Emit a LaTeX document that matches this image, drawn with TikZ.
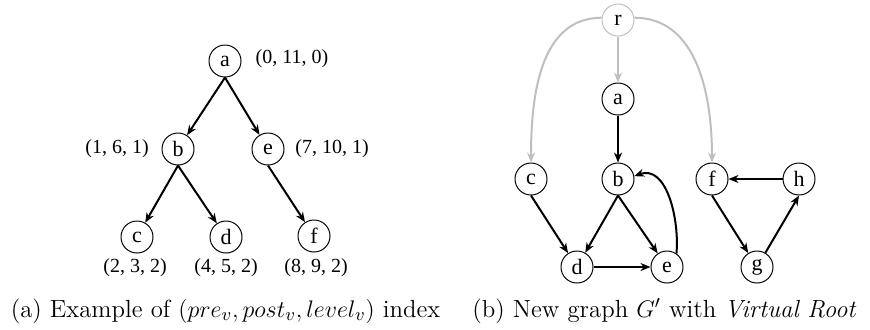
\documentclass[tikz,border=0pt]{standalone}
\usepackage{fontspec}
\newfontfamily\tms{Liberation Serif}
\usetikzlibrary{arrows.meta}
\begin{document}
\begin{tikzpicture}[x=0.5pt,y=-0.5pt,
  vtx/.style={draw,circle,line width=0.5pt,minimum size=16pt,inner sep=0pt,font=\tms\fontsize{11}{12}\selectfont},
  lbl/.style={font=\tms\fontsize{10}{12}\selectfont,inner sep=0pt},
  edge/.style={line width=1pt,-{Stealth[length=5pt,width=4pt]}},
  gedge/.style={line width=1pt,draw=black!25,-{Stealth[length=5pt,width=4pt]}},
  captxt/.style={font=\fontsize{12.4}{14}\selectfont,inner sep=0pt,anchor=base}]
\useasboundingbox (0,0) rectangle (870,329);
% (a)
\node[vtx] (a) at (225,61) {a};
\node[vtx] (b) at (178,149) {b};
\node[vtx] (e) at (268,149) {e};
\node[vtx] (c) at (137,237) {c};
\node[vtx] (d) at (226,237) {d};
\node[vtx] (f) at (314,236) {f};
\node[lbl] (la) at (292,59) {(0, 11, 0)};
\node[lbl] (lb) at (117,149) {(1, 6, 1)};
\node[lbl] (le) at (332,149) {(7, 10, 1)};
\node[lbl] (lc) at (135,268) {(2, 3, 2)};
\node[lbl] (ld) at (226,268) {(4, 5, 2)};
\node[lbl] (lf) at (316,268) {(8, 9, 2)};
\draw[edge] (a.south) -- (b);
\draw[edge] (a.south) -- (e);
\draw[edge] (b.south) -- (c);
\draw[edge] (b.south) -- (d);
\draw[edge] (e.south) -- (f);
% (b)
\node[vtx,draw=black!25] (r) at (618,20) {r};
\node[vtx] (a2) at (618,99) {a};
\node[vtx] (b2) at (618,179) {b};
\node[vtx] (c2) at (531,179) {c};
\node[vtx] (f2) at (712,179) {f};
\node[vtx] (h2) at (799,179) {h};
\node[vtx] (d2) at (577,267) {d};
\node[vtx] (e2) at (667,267) {e};
\node[vtx] (g2) at (757,267) {g};
\draw[gedge] (r) -- (a2);
\draw[gedge] (r.172) to[out=180,in=90] (c2.north);
\draw[gedge] (r.8) to[out=0,in=90] (f2.north);
\draw[edge] (a2) -- (b2);
\draw[edge] (c2.south) -- (d2);
\draw[edge] (b2.south) -- (d2);
\draw[edge] (b2.south) -- (e2);
\draw[edge] (d2) -- (e2);
\draw[edge] (e2.55) to[out=85,in=20] (b2.10);
\draw[edge] (f2.south) -- (g2);
\draw[edge] (g2) -- (h2.south);
\draw[edge] (h2) -- (f2);
% captions
\node[captxt] (capa) at (225.5,317) {(a) Example of $(pre_v, post_v, level_v)$ index};
\node[captxt] (capb) at (664.5,317) {(b) New graph $G'$ with \textit{Virtual Root}};
\end{tikzpicture}
\end{document}
